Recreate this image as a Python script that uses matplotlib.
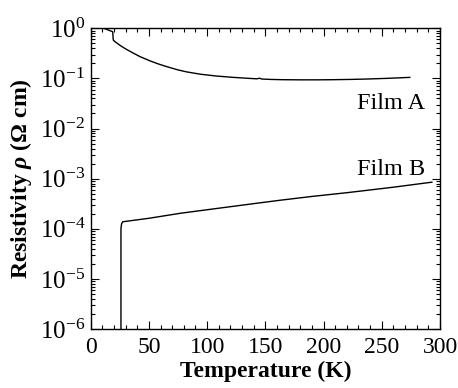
import matplotlib
matplotlib.use("Agg")
import matplotlib.pyplot as plt
from matplotlib.ticker import MultipleLocator, LogLocator, NullFormatter, FixedLocator

plt.rcParams['font.family'] = ['Liberation Serif', 'DejaVu Serif']
plt.rcParams['mathtext.fontset'] = 'custom'
plt.rcParams['mathtext.rm'] = 'Liberation Serif'
plt.rcParams['mathtext.it'] = 'Liberation Serif:italic'
plt.rcParams['mathtext.bf'] = 'Liberation Serif:bold'
plt.rcParams['mathtext.bfit'] = 'Liberation Serif:bold:italic'

# Film A
tA = [12.3, 18.9, 19.4, 20.5, 25.2, 30, 36.6, 42.4, 51, 58, 65.3, 75, 82.5, 94, 108,
      122.5, 135, 142.6, 145, 147, 155, 165, 180, 195, 208, 222, 237, 255, 274]
rhoA = [0.98, 0.855, 0.585, 0.55, 0.457, 0.389, 0.320, 0.272, 0.224, 0.195, 0.172,
        0.148, 0.135, 0.1216, 0.1117, 0.105, 0.1007, 0.0982, 0.101, 0.0973, 0.0955,
        0.0944, 0.0938, 0.0938, 0.0944, 0.0955, 0.0973, 0.1005, 0.105]

# Film B
tB = [26.0, 26.0, 26.5, 27.5, 50, 77, 100, 146, 163, 190, 220, 260, 293]
rhoB = [1e-7, 1.0e-4, 1.25e-4, 1.38e-4, 1.62e-4, 2.04e-4, 2.40e-4, 3.31e-4, 3.72e-4,
        4.42e-4, 5.25e-4, 6.76e-4, 8.51e-4]

xticks = [0, 50, 100, 150, 200, 250, 300]
yticks = [1e-6, 1e-5, 1e-4, 1e-3, 1e-2, 1e-1, 1e0]
ylabels = [r'$10^{-6}$', r'$10^{-5}$', r'$10^{-4}$', r'$10^{-3}$', r'$10^{-2}$', r'$10^{-1}$', r'$10^{0}$']

fig = plt.figure(figsize=(4.58, 3.88), dpi=100)
ax = fig.add_axes([0.198, 0.152, 0.7627, 0.775])

ax.plot(tA, rhoA, color='black', lw=1.0)
ax.plot(tB, rhoB, color='black', lw=1.0)

ax.set_yscale('log')
ax.set_xlim(0, 300)
ax.set_ylim(1e-6, 1e0)

ax.set_xticks(xticks)
ax.set_xticklabels([str(v) for v in xticks])
ax.xaxis.set_minor_locator(MultipleLocator(10))
ax.yaxis.set_major_locator(FixedLocator(yticks))
ax.set_yticklabels(ylabels)
ax.yaxis.set_minor_locator(LogLocator(base=10, subs=range(2, 10), numticks=20))
ax.yaxis.set_minor_formatter(NullFormatter())

ax.tick_params(which='both', direction='in', top=True, right=True, width=0.8, labelsize=17)
ax.tick_params(axis='y', labelsize=18)
ax.tick_params(which='major', length=6)
ax.tick_params(which='minor', length=3)
ax.tick_params(axis='x', pad=6)
ax.tick_params(axis='y', pad=4)
for s in ax.spines.values():
    s.set_linewidth(1.0)

ax.set_xlabel('Temperature (K)', fontsize=17, fontweight='bold', labelpad=2)
ax.set_ylabel(r'Resistivity $\boldsymbol{\rho}$ ($\mathbf{\Omega}$ cm)', fontsize=17, fontweight='bold', labelpad=4)

ax.text(287, 3.2e-2, 'Film A', fontsize=17.5, ha='right', va='center')
ax.text(287, 1.5e-3, 'Film B', fontsize=17.5, ha='right', va='center')

fig.savefig('out.png', dpi=100)
